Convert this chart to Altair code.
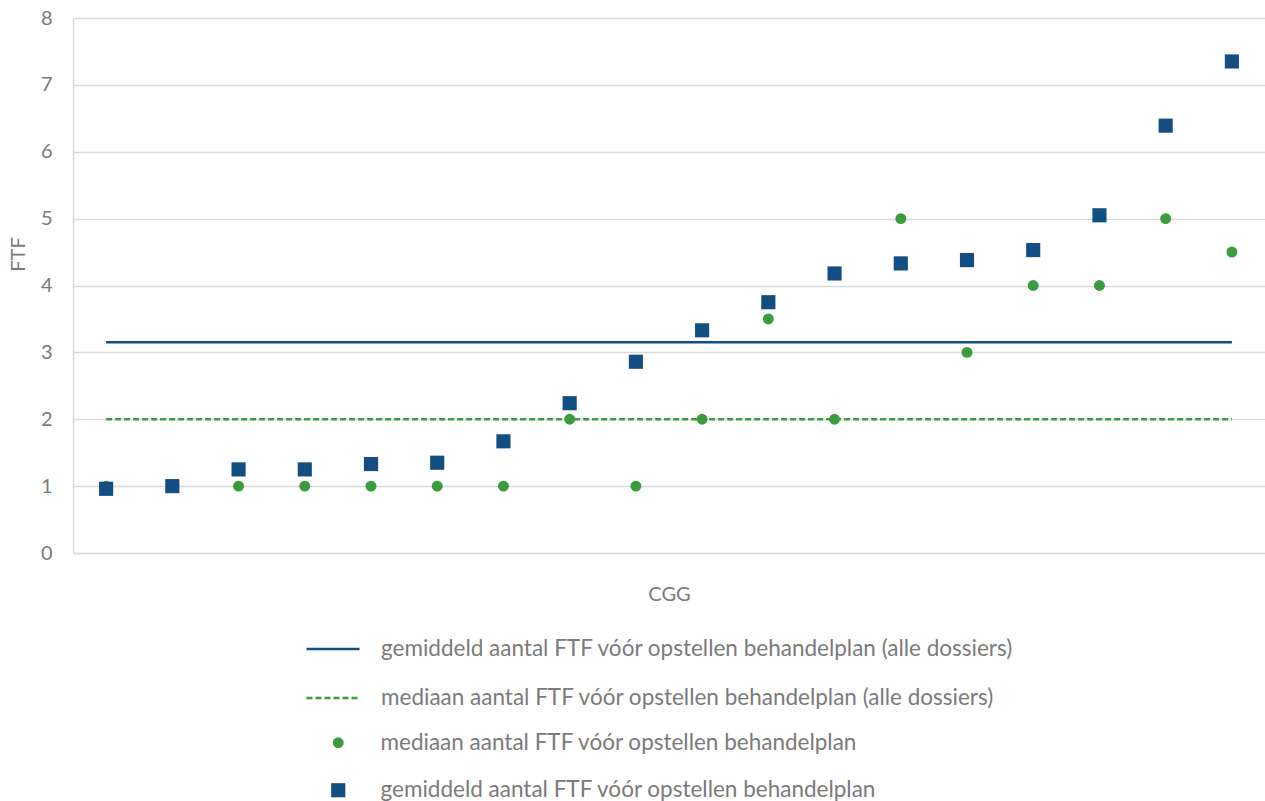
import altair as alt
import pandas as pd

# CGG groups, ordered by their mean number of FTF
cgg = [f"CGG {i}" for i in range(1, 19)]

# mean and median number of FTF before the treatment plan, per CGG
gemiddeld = [0.96, 1.0, 1.25, 1.25, 1.33, 1.35, 1.67, 2.24, 2.86, 3.33,
             3.75, 4.18, 4.33, 4.38, 4.53, 5.05, 6.39, 7.35]
mediaan = [1, 1, 1, 1, 1, 1, 1, 2, 1, 2, 3.5, 2, 5, 3, 4, 4, 5, 4.5]

# overall values across all dossiers
gemiddeld_alle = 3.15
mediaan_alle = 2.0

LBL_GEM_ALLE = "gemiddeld aantal FTF vóór opstellen behandelplan (alle dossiers)"
LBL_MED_ALLE = "mediaan aantal FTF vóór opstellen behandelplan (alle dossiers)"
LBL_MED = "mediaan aantal FTF vóór opstellen behandelplan"
LBL_GEM = "gemiddeld aantal FTF vóór opstellen behandelplan"

BLUE = "#124E82"
GREEN = "#3A9C3C"
GRID = "#D9D9D9"
TEXT = "#7A7A7A"
FONT = "Lato"

n = len(cgg)
points_df = pd.DataFrame({
    "cgg": cgg * 2,
    "ftf": mediaan + gemiddeld,
    "reeks": [LBL_MED] * n + [LBL_GEM] * n,
})
lines_df = pd.DataFrame({
    "cgg": [cgg[0], cgg[-1], cgg[0], cgg[-1]],
    "ftf": [gemiddeld_alle] * 2 + [mediaan_alle] * 2,
    "lijn": [LBL_GEM_ALLE] * 2 + [LBL_MED_ALLE] * 2,
})

x_enc = alt.X(
    "cgg:O",
    sort=cgg,
    scale=alt.Scale(type="point", domain=cgg, padding=0.5),
    axis=alt.Axis(
        title="CGG", labels=False, ticks=False, grid=False,
        domainColor=GRID, domainWidth=1.5,
        titleFont=FONT, titleFontSize=20, titleFontWeight="normal",
        titleColor=TEXT, titlePadding=31,
    ),
)
y_enc = alt.Y(
    "ftf:Q",
    scale=alt.Scale(domain=[0, 8], nice=False, zero=True),
    axis=alt.Axis(
        title="FTF", values=list(range(9)), format="d",
        ticks=False, grid=True, gridColor=GRID, gridWidth=1.5,
        domainColor=GRID, domainWidth=1.5,
        labelFont=FONT, labelFontSize=20, labelColor=TEXT, labelPadding=21,
        titleFont=FONT, titleFontSize=20, titleFontWeight="normal",
        titleColor=TEXT, titleAngle=-90, titleAlign="center",
        titleBaseline="middle", titleX=-55, titleY=236,
    ),
)

line_legend = alt.Legend(
    orient="none", legendX=232, legendY=603, direction="vertical",
    symbolType="stroke", symbolSize=2809, symbolStrokeWidth=2.5,
    labelOffset=20, labelFont=FONT, labelFontSize=22.5, labelFontWeight="normal",
    labelColor=TEXT, labelLimit=900, rowPadding=9, padding=0,
)
point_legend = alt.Legend(
    orient="none", legendX=254, legendY=713.5, direction="vertical",
    symbolSize=170, symbolStrokeWidth=0,
    labelOffset=31, labelFont=FONT, labelFontSize=22.5, labelFontWeight="normal",
    labelColor=TEXT, labelLimit=900, rowPadding=24.5, padding=0,
)

lines = alt.Chart(lines_df).mark_line(strokeWidth=2.5).encode(
    x=x_enc,
    y=y_enc,
    color=alt.Color(
        "lijn:N", title=None,
        scale=alt.Scale(domain=[LBL_GEM_ALLE, LBL_MED_ALLE], range=[BLUE, GREEN]),
        legend=line_legend,
    ),
    strokeDash=alt.StrokeDash(
        "lijn:N", title=None,
        scale=alt.Scale(domain=[LBL_GEM_ALLE, LBL_MED_ALLE], range=[[1, 0], [6, 3]]),
        legend=line_legend,
    ),
)

points = alt.Chart(points_df).mark_point(filled=True, opacity=1).encode(
    x=x_enc,
    y=y_enc,
    color=alt.Color(
        "reeks:N", title=None,
        scale=alt.Scale(domain=[LBL_MED, LBL_GEM], range=[GREEN, BLUE]),
        legend=point_legend,
    ),
    shape=alt.Shape(
        "reeks:N", title=None,
        scale=alt.Scale(domain=[LBL_MED, LBL_GEM], range=["circle", "square"]),
        legend=point_legend,
    ),
    size=alt.Size(
        "reeks:N",
        scale=alt.Scale(domain=[LBL_MED, LBL_GEM], range=[120, 200]),
        legend=None,
    ),
)

chart = (
    alt.layer(lines, points)
    .resolve_scale(color="independent", shape="independent",
                   strokeDash="independent", size="independent")
    .properties(
        width=1192,
        height=535,
        autosize=alt.AutoSizeParams(type="none"),
        padding={"left": 73, "top": 18, "right": 0, "bottom": 248},
        background="white",
    )
    .configure_view(strokeWidth=0)
)

chart.save("out.html", embed_options={"renderer": "svg", "actions": False})
